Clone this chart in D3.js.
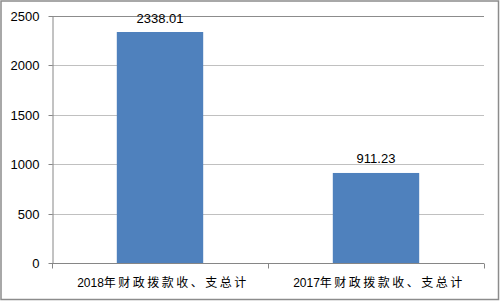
<!DOCTYPE html>
<html lang="zh">
<head>
<meta charset="UTF-8">
<title>财政拨款收、支总计</title>
<script src="https://d3js.org/d3.v7.min.js"></script>
<style>
  body { margin: 0; background: white; }
  svg { display: block; }
  text { font-family: "Liberation Sans", Arial, "Noto Sans CJK SC", sans-serif; fill: #000; }
</style>
</head>
<body>
<svg width="500" height="301"></svg>
<script>
  // data
  const years = ["2018", "2017"];
  const categories = ["2018年财政拨款收、支总计", "2017年财政拨款收、支总计"];
  const values = [2338.01, 911.23];
  const yTicks = [0, 500, 1000, 1500, 2000, 2500];

  const svg = d3.select("svg");
  const W = 500, H = 301;
  const margin = {top: 16, right: 16, bottom: 38, left: 52};

  // outer chart border
  svg.append("rect")
    .attr("x", 1).attr("y", 1)
    .attr("width", W - 2.5).attr("height", H - 2.5)
    .attr("fill", "white")
    .attr("stroke", "#8c8c8c")
    .attr("stroke-width", 1.5);

  const x = d3.scaleBand()
    .domain(categories)
    .range([margin.left, W - margin.right])
    .padding(0);

  const y = d3.scaleLinear()
    .domain([0, 2500])
    .range([H - margin.bottom, margin.top]);

  // gridlines
  svg.append("g")
    .selectAll("line")
    .data(yTicks.filter(d => d > 0))
    .enter()
    .append("line")
    .attr("x1", margin.left)
    .attr("x2", W - margin.right)
    .attr("y1", d => Math.round(y(d)) + 0.5)
    .attr("y2", d => Math.round(y(d)) + 0.5)
    .attr("stroke", d => d === 2500 ? "#8c8c8c" : "#c0c0c0")
    .attr("stroke-width", 1);

  // y axis
  const yAxis = svg.append("g")
    .attr("transform", `translate(${margin.left + 0.5},0)`)
    .call(d3.axisLeft(y).tickValues(yTicks).tickFormat(d3.format("d"))
      .tickSize(4).tickPadding(9).tickSizeOuter(0));
  yAxis.select(".domain").attr("stroke", "#868686");
  yAxis.selectAll(".tick line").attr("stroke", "#868686");
  yAxis.selectAll(".tick").attr("transform", d => `translate(0,${Math.round(y(d)) + 0.5})`);
  yAxis.selectAll(".tick text")
    .style("font-size", "13px")
    .attr("fill", "#000");

  // bars
  const barW = x.bandwidth() * 0.4;
  svg.append("g")
    .selectAll("rect")
    .data(values)
    .enter()
    .append("rect")
    .attr("x", (d, i) => x(categories[i]) + (x.bandwidth() - barW) / 2)
    .attr("y", d => y(d))
    .attr("width", barW)
    .attr("height", d => y(0) - y(d))
    .attr("fill", "#4f81bd");

  // value labels
  svg.append("g")
    .selectAll("text")
    .data(values)
    .enter()
    .append("text")
    .attr("x", (d, i) => x(categories[i]) + x.bandwidth() / 2)
    .attr("y", d => y(d) - 9.5)
    .attr("text-anchor", "middle")
    .style("font-size", "13px")
    .text(d => d.toFixed(2));

  // x axis line and ticks at band boundaries
  const y0 = Math.round(y(0)) + 0.5;
  svg.append("line")
    .attr("x1", margin.left).attr("x2", W - margin.right)
    .attr("y1", y0).attr("y2", y0)
    .attr("stroke", "#868686");

  const bounds = categories.map(c => x(c)).concat([x(categories[categories.length - 1]) + x.bandwidth()]);
  svg.append("g")
    .selectAll("line")
    .data(bounds)
    .enter()
    .append("line")
    .attr("x1", d => Math.round(d) + 0.5)
    .attr("x2", d => Math.round(d) + 0.5)
    .attr("y1", y0)
    .attr("y2", y0 + 5)
    .attr("stroke", "#868686");

  // category labels
  const cat = svg.append("g")
    .selectAll("text")
    .data(categories)
    .enter()
    .append("text")
    .attr("x", d => x(d) + x.bandwidth() / 2 + 3)
    .attr("y", 287)
    .attr("text-anchor", "middle");
  cat.append("tspan")
    .style("font-size", "12px")
    .text((d, i) => years[i]);
  cat.append("tspan")
    .style("font-size", "12px")
    .style("font-family", "'Noto Sans CJK SC', sans-serif")
    .style("letter-spacing", "2.5px")
    .text((d, i) => d.slice(years[i].length));
</script>
</body>
</html>
